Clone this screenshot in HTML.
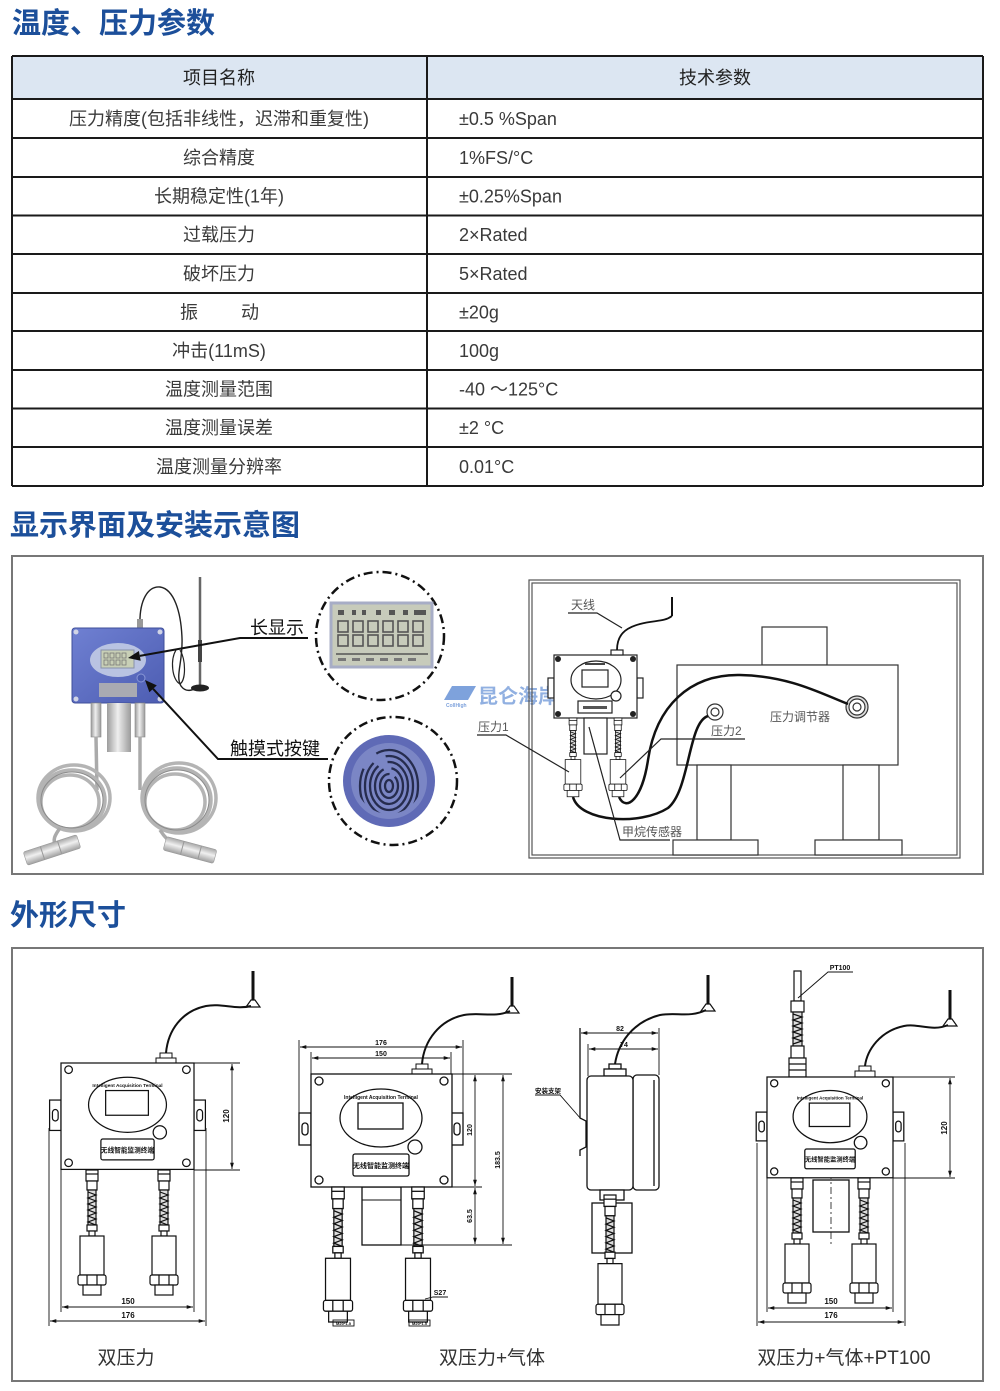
<!DOCTYPE html>
<html><head><meta charset="utf-8"><style>
html,body{margin:0;padding:0;background:#fff;}
svg{display:block;}
</style></head><body>
<svg width="1000" height="1391" viewBox="0 0 1000 1391" xmlns="http://www.w3.org/2000/svg" font-family="'Liberation Sans','Noto Sans CJK SC',sans-serif">
<defs>
<marker id="ar" viewBox="0 0 10 10" refX="10" refY="5" markerWidth="7" markerHeight="7" orient="auto-start-reverse"><path d="M0,2 L10,5 L0,8 Z" fill="#111"/></marker>
<linearGradient id="blue" x1="0" y1="0" x2="1" y2="1"><stop offset="0" stop-color="#6f80d2"/><stop offset="1" stop-color="#4d5db2"/></linearGradient>
<linearGradient id="silver" x1="0" y1="0" x2="1" y2="0"><stop offset="0" stop-color="#9c9c9c"/><stop offset="0.45" stop-color="#eeeeee"/><stop offset="1" stop-color="#9a9a9a"/></linearGradient>
<linearGradient id="silverv" x1="0" y1="0" x2="0" y2="1"><stop offset="0" stop-color="#a8a8a8"/><stop offset="0.45" stop-color="#f0f0f0"/><stop offset="1" stop-color="#a0a0a0"/></linearGradient>
<clipPath id="fpclip"><circle cx="389" cy="781" r="33"/></clipPath>
<g id="ps" fill="#fff" stroke="#111" stroke-width="1.2">
<rect x="-6" y="0" width="12" height="11"/>
<line x1="-6" y1="4" x2="6" y2="4"/>
<rect x="-5" y="11" width="10" height="9"/>
<rect x="-4" y="20" width="8" height="35" fill="#ddd"/>
<path d="M-4,22 L4,25 L-4,28 L4,31 L-4,34 L4,37 L-4,40 L4,43 L-4,46 L4,49 L-4,52 L4,55" fill="none"/>
<rect x="-5" y="55" width="10" height="6"/>
<rect x="-3" y="61" width="6" height="5"/>
<rect x="-12" y="66" width="24" height="39"/>
<rect x="-14" y="105" width="28" height="10" rx="2"/>
<line x1="-5" y1="105" x2="-5" y2="115"/><line x1="5" y1="105" x2="5" y2="115"/>
<rect x="-9" y="115" width="18" height="10"/>
</g>
<g id="ant">
<line x1="0" y1="0" x2="0" y2="30" stroke="#111" stroke-width="3"/>
<path d="M-7,36 L7,36 L2,29 L-2,29 Z" fill="#fff" stroke="#111" stroke-width="1.2"/>
</g>
</defs>

<!-- ===== Headings ===== -->
<text x="12" y="33" font-size="29" font-weight="bold" fill="#1c4f9a">温度、压力参数</text>
<text x="10" y="535" font-size="29" font-weight="bold" fill="#1c4f9a">显示界面及安装示意图</text>
<text x="10" y="925" font-size="29" font-weight="bold" fill="#1c4f9a">外形尺寸</text>

<!-- ===== Table ===== -->
<rect x="12" y="56" width="971" height="43" fill="#dce6f2"/>
<g stroke="#1a1a1a" stroke-width="2">
<line x1="12" y1="56" x2="983" y2="56"/>
<line x1="12" y1="99" x2="983" y2="99"/>
<line x1="12" y1="138" x2="983" y2="138"/>
<line x1="12" y1="177" x2="983" y2="177"/>
<line x1="12" y1="215.5" x2="983" y2="215.5"/>
<line x1="12" y1="254" x2="983" y2="254"/>
<line x1="12" y1="293" x2="983" y2="293"/>
<line x1="12" y1="331" x2="983" y2="331"/>
<line x1="12" y1="370" x2="983" y2="370"/>
<line x1="12" y1="408.5" x2="983" y2="408.5"/>
<line x1="12" y1="447" x2="983" y2="447"/>
<line x1="12" y1="486" x2="983" y2="486"/>
<line x1="12" y1="56" x2="12" y2="486"/>
<line x1="427" y1="56" x2="427" y2="486"/>
<line x1="983" y1="56" x2="983" y2="486"/>
</g>
<g font-size="18" fill="#222" text-anchor="middle">
<text x="219" y="84">项目名称</text>
<text x="715" y="84">技术参数</text>
</g>
<g font-size="18" fill="#3a3a3a" text-anchor="middle">
<text x="219" y="125">压力精度(包括非线性，迟滞和重复性)</text>
<text x="219" y="164">综合精度</text>
<text x="219" y="202.5">长期稳定性(1年)</text>
<text x="219" y="241">过载压力</text>
<text x="219" y="280">破坏压力</text>
<text x="189" y="318.5">振</text>
<text x="250" y="318.5">动</text>
<text x="219" y="357">冲击(11mS)</text>
<text x="219" y="395.5">温度测量范围</text>
<text x="219" y="434">温度测量误差</text>
<text x="219" y="473">温度测量分辨率</text>
</g>
<g font-size="18" fill="#3a3a3a">
<text x="459" y="125">±0.5 %Span</text>
<text x="459" y="164">1%FS/°C</text>
<text x="459" y="202.5">±0.25%Span</text>
<text x="459" y="241">2×Rated</text>
<text x="459" y="280">5×Rated</text>
<text x="459" y="318.5">±20g</text>
<text x="459" y="357">100g</text>
<text x="459" y="395.5">-40 ～125°C</text>
<text x="459" y="434">±2 °C</text>
<text x="459" y="473">0.01°C</text>
</g>

<!-- ===== Section 2 frame ===== -->
<rect x="12" y="556" width="971" height="318" fill="none" stroke="#777" stroke-width="2"/>

<!-- Photo device -->
<g>
<path d="M140,626 C139,600 148,586 160,587 C174,589 181,612 182,638 C183,662 175,676 181,686 C186,693 193,690 196,688" fill="none" stroke="#222" stroke-width="1.4"/>
<path d="M176,650 C170,660 172,680 180,684 C186,680 186,660 180,650" fill="none" stroke="#222" stroke-width="1.2"/>
<line x1="200" y1="577" x2="200" y2="685" stroke="#666" stroke-width="2.5"/>
<line x1="200" y1="640" x2="200" y2="662" stroke="#444" stroke-width="4"/>
<ellipse cx="200" cy="688" rx="9" ry="3.5" fill="#222"/>
<rect x="137" y="619" width="6" height="9" fill="#999"/>
<rect x="72" y="628" width="92" height="75" rx="3" fill="url(#blue)" stroke="#3f4f9a" stroke-width="1"/>
<circle cx="76" cy="632" r="2.5" fill="#d0d4e6"/><circle cx="160" cy="632" r="2.5" fill="#d0d4e6"/>
<circle cx="76" cy="699" r="2.5" fill="#d0d4e6"/><circle cx="160" cy="699" r="2.5" fill="#d0d4e6"/>
<ellipse cx="118" cy="660" rx="28" ry="17" fill="#b9c3e2"/>
<rect x="101" y="650" width="33" height="18" fill="#c8cfb6" stroke="#8890a8" stroke-width="1"/>
<g stroke="#777" stroke-width="0.8" fill="none">
<rect x="104" y="653" width="4" height="5"/><rect x="110" y="653" width="4" height="5"/><rect x="116" y="653" width="4" height="5"/><rect x="122" y="653" width="4" height="5"/>
<rect x="104" y="660" width="4" height="5"/><rect x="110" y="660" width="4" height="5"/><rect x="116" y="660" width="4" height="5"/><rect x="122" y="660" width="4" height="5"/>
</g>
<rect x="99" y="683" width="38" height="14" fill="#a9aab2"/>
<circle cx="141" cy="678" r="4" fill="#4a5bb0" stroke="#8896d6" stroke-width="1"/>
<rect x="107" y="703" width="24" height="49" fill="url(#silver)"/>
<rect x="91" y="703" width="10" height="34" fill="url(#silver)" stroke="#888" stroke-width="0.6"/>
<rect x="135" y="703" width="10" height="34" fill="url(#silver)" stroke="#888" stroke-width="0.6"/>
<line x1="96" y1="737" x2="97" y2="790" stroke="#aaa" stroke-width="3.5"/>
<line x1="140" y1="737" x2="140" y2="790" stroke="#aaa" stroke-width="3.5"/>
<g fill="none" stroke="#b4b4b4" stroke-width="3.5">
<ellipse cx="72" cy="800" rx="33" ry="30"/><ellipse cx="70" cy="802" rx="29" ry="27"/><ellipse cx="74" cy="798" rx="36" ry="33"/>
<ellipse cx="177" cy="800" rx="34" ry="32"/><ellipse cx="175" cy="802" rx="30" ry="28"/><ellipse cx="179" cy="798" rx="37" ry="35"/>
</g>
<g fill="none" stroke="#8a8a8a" stroke-width="1">
<ellipse cx="72" cy="800" rx="31" ry="28"/><ellipse cx="177" cy="800" rx="32" ry="30"/>
</g>
<path d="M60,828 C55,835 52,840 56,846" fill="none" stroke="#aaa" stroke-width="3.5"/>
<path d="M160,830 C165,838 170,842 175,846" fill="none" stroke="#aaa" stroke-width="3.5"/>
<g transform="translate(52,850) rotate(-18)"><rect x="-28" y="-7" width="56" height="14" rx="2" fill="url(#silverv)" stroke="#999" stroke-width="0.6"/><line x1="-10" y1="-7" x2="-10" y2="7" stroke="#999"/><line x1="8" y1="-7" x2="8" y2="7" stroke="#999"/></g>
<g transform="translate(190,850) rotate(15)"><rect x="-26" y="-7" width="52" height="14" rx="2" fill="url(#silverv)" stroke="#999" stroke-width="0.6"/><line x1="-8" y1="-7" x2="-8" y2="7" stroke="#999"/><line x1="10" y1="-7" x2="10" y2="7" stroke="#999"/></g>
</g>

<g stroke="#111" stroke-width="2" fill="none">
<polyline points="308,638 240,638 139.8,655.9"/>
<polyline points="328,759 218,759 153.1,688.8"/>
</g>
<polygon points="128,658 140.7,660.8 138.9,651" fill="#111"/>
<polygon points="145,680 156.8,685.4 149.4,692.2" fill="#111"/>
<text x="250" y="634" font-size="18" fill="#111">长显示</text>
<text x="230" y="755" font-size="18" fill="#111">触摸式按键</text>

<circle cx="380" cy="636" r="64" fill="none" stroke="#111" stroke-width="2.5" stroke-dasharray="9 4 2 4"/>
<rect x="331" y="603" width="101" height="64" fill="#c7cbbb" stroke="#a7adc6" stroke-width="3"/>
<g fill="#555">
<rect x="338" y="610" width="6" height="5"/><rect x="352" y="610" width="4" height="5"/><rect x="362" y="610" width="4" height="5"/><rect x="376" y="610" width="5" height="5"/><rect x="389" y="610" width="6" height="5"/><rect x="403" y="610" width="5" height="5"/><rect x="414" y="610" width="12" height="5"/>
</g>
<g stroke="#555" stroke-width="1.6" fill="none">
<rect x="338" y="621" width="10" height="11"/><rect x="353" y="621" width="10" height="11"/><rect x="368" y="621" width="10" height="11"/><rect x="383" y="621" width="10" height="11"/><rect x="398" y="621" width="10" height="11"/><rect x="413" y="621" width="10" height="11"/>
<rect x="338" y="635" width="10" height="11"/><rect x="353" y="635" width="10" height="11"/><rect x="368" y="635" width="10" height="11"/><rect x="383" y="635" width="10" height="11"/><rect x="398" y="635" width="10" height="11"/><rect x="413" y="635" width="10" height="11"/>
<line x1="336" y1="654" x2="428" y2="654"/>
</g>
<g fill="#777"><rect x="338" y="658" width="8" height="3"/><rect x="352" y="658" width="8" height="3"/><rect x="366" y="658" width="8" height="3"/><rect x="380" y="658" width="8" height="3"/><rect x="394" y="658" width="8" height="3"/><rect x="408" y="658" width="8" height="3"/></g>

<circle cx="393" cy="781" r="64" fill="none" stroke="#111" stroke-width="2.5" stroke-dasharray="9 4 2 4"/>
<circle cx="389" cy="781" r="46" fill="#5f6ab6"/>
<circle cx="389" cy="781" r="38" fill="#8793cc" opacity="0.7"/>
<g clip-path="url(#fpclip)" fill="none" stroke="#262c4e" stroke-width="2.3">
<ellipse cx="389" cy="786" rx="4" ry="6"/>
<ellipse cx="389" cy="786" rx="9" ry="12" stroke-dasharray="50 6"/>
<ellipse cx="389" cy="786" rx="14" ry="18" stroke-dasharray="70 8"/>
<ellipse cx="389" cy="786" rx="19" ry="24" stroke-dasharray="90 10"/>
<ellipse cx="389" cy="786" rx="24" ry="30" stroke-dasharray="110 14"/>
<ellipse cx="389" cy="786" rx="29" ry="36" stroke-dasharray="120 20"/>
</g>

<polygon points="452,686 476,686 468,700 444,700" fill="#7ea2dc"/>
<text x="446" y="707" font-size="5" fill="#7ea2dc" font-weight="bold">CollHigh</text>
<text x="478" y="703" font-size="20" font-weight="bold" fill="#86a8de" opacity="0.9">昆仑海岸</text>

<rect x="529" y="580" width="431" height="278" fill="none" stroke="#555" stroke-width="1.2"/>
<rect x="532" y="583" width="425" height="272" fill="none" stroke="#555" stroke-width="1.2"/>
<g fill="#fff" stroke="#333" stroke-width="1.2">
<rect x="762" y="627" width="65" height="38"/>
<rect x="677" y="665" width="221" height="100"/>
<rect x="697" y="765" width="34" height="75"/>
<rect x="843" y="765" width="36" height="75"/>
<rect x="673" y="840" width="85" height="15"/>
<rect x="815" y="840" width="87" height="15"/>
<circle cx="715" cy="712" r="8"/><circle cx="715" cy="712" r="4"/>
<circle cx="857" cy="707" r="11" fill="#ddd"/><circle cx="857" cy="707" r="8"/><circle cx="857" cy="707" r="4"/>
</g>
<text x="770" y="721" font-size="12" fill="#555">压力调节器</text>
<g fill="#fff" stroke="#222" stroke-width="1.2">
<rect x="548" y="678" width="6" height="20"/>
<rect x="637" y="678" width="6" height="20"/>
<rect x="554" y="655" width="83" height="63"/>
<ellipse cx="596" cy="680" rx="25" ry="19"/>
<rect x="582" y="670" width="26" height="17"/>
<circle cx="616" cy="696" r="5"/>
<rect x="578" y="701" width="34" height="12"/>
<rect x="611" y="650" width="12" height="5"/>
<rect x="584" y="718" width="23" height="36"/>
</g>
<g fill="#222"><circle cx="558" cy="659" r="3"/><circle cx="633" cy="659" r="3"/><circle cx="558" cy="714" r="3"/><circle cx="633" cy="714" r="3"/></g>
<rect x="583" y="706" width="24" height="3" fill="#555"/>
<rect x="585" y="663" width="20" height="2" fill="#444"/>
<use href="#ps" transform="translate(573,718) scale(0.65,0.63)"/>
<use href="#ps" transform="translate(618,718) scale(0.65,0.63)"/>
<line x1="672" y1="597" x2="672" y2="616" stroke="#111" stroke-width="2"/>
<path d="M617,650 C617,635 625,628 640,624 C655,620 664,622 672,616" fill="none" stroke="#111" stroke-width="1.8"/>
<text x="571" y="609" font-size="12" fill="#555">天线</text>
<polyline points="568,613 597,613 622,628" fill="none" stroke="#222" stroke-width="1.2"/>
<path d="M619,797 C626,812 642,800 648,760 C656,706 690,674 740,675 C790,676 822,694 848,704" fill="none" stroke="#111" stroke-width="2.5"/>
<path d="M573,797 C580,822 640,826 668,808 C690,790 688,722 708,716" fill="none" stroke="#111" stroke-width="2.5"/>
<text x="478" y="731" font-size="12" fill="#555">压力1</text>
<polyline points="477,735 506,735 569,772" fill="none" stroke="#222" stroke-width="1.2"/>
<text x="711" y="735" font-size="12" fill="#555">压力2</text>
<polyline points="745,739 661,739 620,778" fill="none" stroke="#222" stroke-width="1.2"/>
<text x="622" y="836" font-size="12" fill="#555">甲烷传感器</text>
<polyline points="670,840 620,840 589,727" fill="none" stroke="#222" stroke-width="1.2"/>

<!-- ===== Section 3 frame ===== -->
<rect x="12" y="948" width="971" height="433" fill="none" stroke="#777" stroke-width="2"/>

<!-- Drawing 1 -->
<use href="#ant" transform="translate(253,971)"/>
<path d="M251,1006 C236,1010 222,1003 206,1006 C182,1011 168,1030 166,1053" fill="none" stroke="#111" stroke-width="2"/>
<rect x="160" y="1053" width="12" height="5" fill="#fff" stroke="#111" stroke-width="1"/>
<rect x="156" y="1058" width="20" height="5" fill="#fff" stroke="#111" stroke-width="1"/>
<g transform="translate(61,1063) scale(0.95)">
<g fill="#fff" stroke="#111" stroke-width="1.3">
<rect x="-12" y="39" width="12" height="32"/><rect x="140" y="39" width="12" height="32"/>
<rect x="-9" y="49" width="6" height="12" rx="3"/><rect x="143" y="49" width="6" height="12" rx="3"/>
<rect x="0" y="0" width="140" height="112"/>
<ellipse cx="70" cy="44" rx="41" ry="29"/>
<rect x="47" y="29" width="45" height="26"/>
<circle cx="104" cy="73" r="7"/>
<rect x="42" y="80" width="56" height="22" rx="2"/>
<circle cx="8" cy="7" r="4"/><circle cx="132" cy="7" r="4"/><circle cx="8" cy="105" r="4"/><circle cx="132" cy="105" r="4"/>
</g>
<text x="70" y="25" font-size="5" font-weight="bold" text-anchor="middle" fill="#111">Intelligent Acquisition Terminal</text>
<text x="70" y="94" font-size="7" font-weight="bold" text-anchor="middle" fill="#111">无线智能监测终端</text>
</g>
<use href="#ps" transform="translate(92,1170)"/>
<use href="#ps" transform="translate(164,1170)"/>
<g stroke="#111" stroke-width="0.9" fill="none">
<line x1="49" y1="1128" x2="49" y2="1326"/><line x1="206" y1="1128" x2="206" y2="1326"/>
<line x1="61" y1="1170" x2="61" y2="1312"/><line x1="194" y1="1170" x2="194" y2="1312"/>
<line x1="62" y1="1307" x2="193" y2="1307" marker-start="url(#ar)" marker-end="url(#ar)"/>
<line x1="50" y1="1321" x2="205" y2="1321" marker-start="url(#ar)" marker-end="url(#ar)"/>
<line x1="194" y1="1063" x2="240" y2="1063"/><line x1="194" y1="1170" x2="240" y2="1170"/>
<line x1="232" y1="1064" x2="232" y2="1169" marker-start="url(#ar)" marker-end="url(#ar)"/>
</g>
<g font-size="8" font-weight="bold" fill="#111" text-anchor="middle">
<text x="128" y="1304">150</text>
<text x="128" y="1318">176</text>
<text transform="translate(229,1116) rotate(-90)">120</text>
</g>
<text x="126" y="1364" font-size="19" fill="#333" text-anchor="middle">双压力</text>

<!-- Drawing 2 -->
<use href="#ant" transform="translate(512,977)"/>
<path d="M510,1011 C495,1018 480,1012 464,1015 C440,1020 424,1040 422,1064" fill="none" stroke="#111" stroke-width="2"/>
<rect x="416" y="1064" width="12" height="5" fill="#fff" stroke="#111" stroke-width="1"/>
<rect x="412" y="1069" width="20" height="5" fill="#fff" stroke="#111" stroke-width="1"/>
<rect x="362" y="1187" width="39" height="58" fill="#fff" stroke="#111" stroke-width="1.3"/>
<line x1="362" y1="1200" x2="401" y2="1200" stroke="#111" stroke-width="1"/>
<g transform="translate(311,1074)">
<g fill="#fff" stroke="#111" stroke-width="1.3">
<rect x="-12" y="39" width="12" height="32"/><rect x="140" y="39" width="12" height="32"/>
<rect x="-9" y="49" width="6" height="12" rx="3"/><rect x="143" y="49" width="6" height="12" rx="3"/>
<rect x="0" y="0" width="141" height="113"/>
<ellipse cx="70" cy="44" rx="41" ry="29"/>
<rect x="47" y="29" width="45" height="26"/>
<circle cx="104" cy="73" r="7"/>
<rect x="42" y="80" width="56" height="22" rx="2"/>
<circle cx="8" cy="7" r="4"/><circle cx="133" cy="7" r="4"/><circle cx="8" cy="106" r="4"/><circle cx="133" cy="106" r="4"/>
</g>
<text x="70" y="25" font-size="5" font-weight="bold" text-anchor="middle" fill="#111">Intelligent Acquisition Terminal</text>
<text x="70" y="94" font-size="7" font-weight="bold" text-anchor="middle" fill="#111">无线智能监测终端</text>
</g>
<use href="#ps" transform="translate(338,1187) scale(1.04,1.08)"/>
<use href="#ps" transform="translate(418,1187) scale(1.04,1.08)"/>
<g stroke="#111" stroke-width="0.9" fill="none">
<line x1="299" y1="1040" x2="299" y2="1113"/><line x1="463" y1="1040" x2="463" y2="1113"/>
<line x1="311" y1="1052" x2="311" y2="1074"/><line x1="451" y1="1052" x2="451" y2="1074"/>
<line x1="300" y1="1047" x2="462" y2="1047" marker-start="url(#ar)" marker-end="url(#ar)"/>
<line x1="312" y1="1058" x2="450" y2="1058" marker-start="url(#ar)" marker-end="url(#ar)"/>
<line x1="452" y1="1074" x2="512" y2="1074"/><line x1="452" y1="1187" x2="482" y2="1187"/><line x1="401" y1="1245" x2="512" y2="1245"/>
<line x1="475" y1="1075" x2="475" y2="1186" marker-start="url(#ar)" marker-end="url(#ar)"/>
<line x1="475" y1="1188" x2="475" y2="1244" marker-start="url(#ar)" marker-end="url(#ar)"/>
<line x1="503" y1="1075" x2="503" y2="1244" marker-start="url(#ar)" marker-end="url(#ar)"/>
<polyline points="425,1299 433,1297 448,1297"/>
<rect x="333" y="1320" width="21" height="6"/><rect x="409" y="1320" width="21" height="6"/>
</g>
<g font-size="7" font-weight="bold" fill="#111" text-anchor="middle">
<text x="381" y="1045">176</text>
<text x="381" y="1056">150</text>
<text transform="translate(472,1130) rotate(-90)">120</text>
<text transform="translate(472,1216) rotate(-90)">63.5</text>
<text transform="translate(500,1160) rotate(-90)">183.5</text>
<text x="440" y="1295">S27</text>
<text x="343.5" y="1325" font-size="4">M20*1.5</text>
<text x="419.5" y="1325" font-size="4">M20*1.5</text>
</g>
<text x="492" y="1364" font-size="19" fill="#333" text-anchor="middle">双压力+气体</text>

<!-- Side view -->
<use href="#ant" transform="translate(708,975)"/>
<path d="M706,1010 C690,1018 676,1012 660,1015 C632,1022 618,1044 615,1064" fill="none" stroke="#111" stroke-width="2"/>
<g fill="#fff" stroke="#111" stroke-width="1.3">
<rect x="609" y="1064" width="12" height="5"/>
<rect x="604" y="1069" width="22" height="7"/>
<rect x="633" y="1075" width="26" height="115" rx="4"/>
<rect x="587" y="1076" width="46" height="114" rx="4"/>
<line x1="654" y1="1080" x2="654" y2="1186"/>
<rect x="600" y="1190" width="24" height="10"/>
<rect x="592" y="1203" width="40" height="50"/>
</g>
<use href="#ps" transform="translate(610,1195) scale(1,1.04)"/>
<g stroke="#111" stroke-width="0.9" fill="none">
<path d="M580,1028 L580,1118 L586,1121 L586,1147 L580,1150 L580,1156" stroke-width="1.3"/>
<line x1="659" y1="1028" x2="659" y2="1075"/><line x1="588" y1="1044" x2="588" y2="1076"/>
<line x1="581" y1="1033" x2="658" y2="1033" marker-start="url(#ar)" marker-end="url(#ar)"/>
<line x1="589" y1="1049" x2="658" y2="1049" marker-start="url(#ar)" marker-end="url(#ar)"/>
<polyline points="535,1095 560,1095 581,1119"/>
</g>
<g font-size="7" font-weight="bold" fill="#111" text-anchor="middle">
<text x="620" y="1031">82</text>
<text x="624" y="1047">74</text>
</g>
<text x="535" y="1093" font-size="6.5" font-weight="bold" fill="#111">安装支架</text>

<!-- Drawing 4 -->
<use href="#ant" transform="translate(950,990)"/>
<path d="M948,1025 C932,1032 918,1023 904,1026 C880,1031 867,1050 865,1066" fill="none" stroke="#111" stroke-width="2"/>
<rect x="859" y="1066" width="12" height="5" fill="#fff" stroke="#111" stroke-width="1"/>
<rect x="855" y="1071" width="20" height="6" fill="#fff" stroke="#111" stroke-width="1"/>
<g fill="#fff" stroke="#111" stroke-width="1.2">
<rect x="794" y="971" width="7" height="30"/>
<rect x="791" y="1001" width="13" height="11"/>
<rect x="793" y="1012" width="9" height="34" fill="#ddd"/>
<path d="M793,1014 L802,1017 L793,1020 L802,1023 L793,1026 L802,1029 L793,1032 L802,1035 L793,1038 L802,1041 L793,1044" fill="none"/>
<rect x="791" y="1046" width="13" height="12"/>
<rect x="789" y="1058" width="17" height="19"/>
<line x1="789" y1="1064" x2="806" y2="1064"/><line x1="789" y1="1070" x2="806" y2="1070"/>
</g>
<rect x="813" y="1180" width="36" height="52" fill="#fff" stroke="#111" stroke-width="1.3"/>
<line x1="831" y1="1172" x2="831" y2="1245" stroke="#111" stroke-width="0.8" stroke-dasharray="7 3 2 3"/>
<g transform="translate(767,1077) scale(0.9)">
<g fill="#fff" stroke="#111" stroke-width="1.4">
<rect x="-12" y="39" width="12" height="32"/><rect x="140" y="39" width="12" height="32"/>
<rect x="-9" y="49" width="6" height="12" rx="3"/><rect x="143" y="49" width="6" height="12" rx="3"/>
<rect x="0" y="0" width="140" height="112"/>
<ellipse cx="70" cy="44" rx="41" ry="29"/>
<rect x="47" y="29" width="45" height="26"/>
<circle cx="104" cy="73" r="7"/>
<rect x="42" y="80" width="56" height="22" rx="2"/>
<circle cx="8" cy="7" r="4"/><circle cx="132" cy="7" r="4"/><circle cx="8" cy="105" r="4"/><circle cx="132" cy="105" r="4"/>
</g>
<text x="70" y="25" font-size="5" font-weight="bold" text-anchor="middle" fill="#111">Intelligent Acquisition Terminal</text>
<text x="70" y="94" font-size="7" font-weight="bold" text-anchor="middle" fill="#111">无线智能监测终端</text>
</g>
<use href="#ps" transform="translate(797,1178)"/>
<use href="#ps" transform="translate(864,1178)"/>
<g stroke="#111" stroke-width="0.9" fill="none">
<line x1="757" y1="1143" x2="757" y2="1326"/><line x1="905" y1="1143" x2="905" y2="1326"/>
<line x1="767" y1="1178" x2="767" y2="1312"/><line x1="893" y1="1178" x2="893" y2="1312"/>
<line x1="768" y1="1308" x2="892" y2="1308" marker-start="url(#ar)" marker-end="url(#ar)"/>
<line x1="758" y1="1322" x2="904" y2="1322" marker-start="url(#ar)" marker-end="url(#ar)"/>
<line x1="893" y1="1077" x2="955" y2="1077"/><line x1="893" y1="1178" x2="955" y2="1178"/>
<line x1="950" y1="1078" x2="950" y2="1177" marker-start="url(#ar)" marker-end="url(#ar)"/>
<polyline points="853,972 828,972 798,998"/>
</g>
<g font-size="8" font-weight="bold" fill="#111" text-anchor="middle">
<text x="831" y="1304">150</text>
<text x="831" y="1318">176</text>
<text transform="translate(947,1128) rotate(-90)">120</text>
<text x="840" y="970" font-size="7">PT100</text>
</g>
<text x="844" y="1364" font-size="19" fill="#333" text-anchor="middle">双压力+气体+PT100</text>
</svg>
</body></html>
